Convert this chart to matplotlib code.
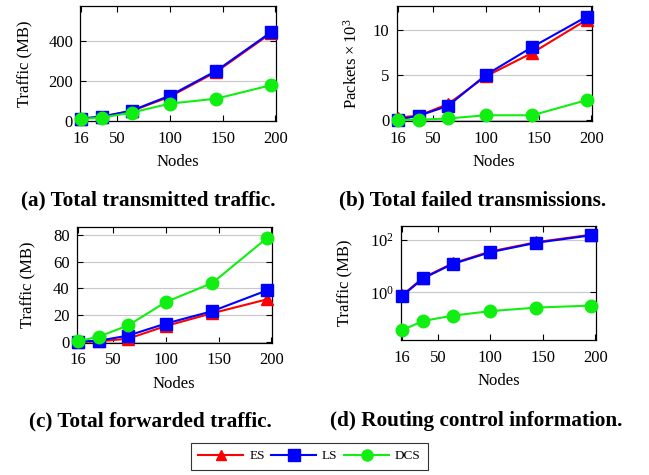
import matplotlib
matplotlib.use("Agg")
import matplotlib.pyplot as plt
from matplotlib.lines import Line2D

plt.rcParams['font.family'] = ['Liberation Serif', 'DejaVu Serif']
plt.rcParams['mathtext.fontset'] = 'custom'
plt.rcParams['mathtext.rm'] = 'Liberation Serif'
plt.rcParams['mathtext.it'] = 'Liberation Serif:italic'

nodes = [16, 36, 64, 100, 144, 196]
xticks = [16, 50, 100, 150, 200]

# (a) Total transmitted traffic (MB)
a_es = [9, 19, 48, 120, 245, 440]
a_ls = [10, 20, 50, 125, 250, 445]
a_dcs = [8, 15, 40, 85, 110, 178]

# (b) Total failed transmissions (packets x 10^3)
b_es = [0.3, 0.5, 1.8, 4.9, 7.5, 11.2]
b_ls = [0.05, 0.5, 1.6, 5.05, 8.15, 11.55]
b_dcs = [0.05, 0.05, 0.2, 0.55, 0.55, 2.25]

# (c) Total forwarded traffic (MB)
c_es = [0.2, 0.5, 2.5, 12, 21.5, 31.8]
c_ls = [0.3, 1.0, 4.8, 13.8, 23, 38.5]
c_dcs = [0.5, 4, 12.4, 29.9, 44, 77.5]

# (d) Routing control information (MB)
d_es = [0.76, 3.6, 12.6, 36, 82, 158]
d_ls = [0.72, 3.4, 12, 34, 78, 150]
d_dcs = [0.036, 0.08, 0.128, 0.19, 0.26, 0.31]

series_names = ["ES", "LS", "DCS"]
colors = ["#ff0000", "#0000ff", "#11ee11"]
markers = ["^", "s", "o"]
msizes = [8, 9, 9]

captions = ["(a) Total transmitted traffic.", "(b) Total failed transmissions.",
            "(c) Total forwarded traffic.", "(d) Routing control information."]

fig = plt.figure(figsize=(6.49, 4.75), dpi=100)

boxes = [
    [0.1233, 0.745, 0.302, 0.242],
    [0.611, 0.745, 0.3007, 0.242],
    [0.118, 0.2785, 0.3007, 0.243],
    [0.618, 0.2842, 0.300, 0.240],
]
data = [(a_es, a_ls, a_dcs), (b_es, b_ls, b_dcs), (c_es, c_ls, c_dcs), (d_es, d_ls, d_dcs)]
ylabels = ["Traffic (MB)", r"Packets $\times\,10^3$", "Traffic (MB)", "Traffic (MB)"]
ylims = [(-3, 575), (-0.1, 12.7), (-0.5, 85.5), (0.015, 340)]
yticks = [[0, 200, 400], [0, 5, 10], [0, 20, 40, 60, 80], [1, 100]]
ylab_x = [-0.281, -0.229, -0.248, -0.287]
cap_pos = [(0.229, 0.577), (0.728, 0.577), (0.231, 0.1137), (0.733, 0.1137)]

for i, (box, d) in enumerate(zip(boxes, data)):
    ax = fig.add_axes(box)
    for vals, c, m, ms in zip(d, colors, markers, msizes):
        ax.plot(nodes, vals, color=c, marker=m, markersize=ms, linewidth=1.5,
                clip_on=False, zorder=3)
    if i == 3:
        ax.set_yscale('log')
        ax.set_yticks(yticks[i])
        ax.set_yticklabels([r"$10^0$", r"$10^2$"])
        ax.minorticks_off()
    else:
        ax.set_yticks(yticks[i])
    ax.set_ylim(*ylims[i])
    ax.set_xlim(15, 200.5)
    ax.set_xticks(xticks)
    ax.tick_params(direction='in', top=True, right=True, labelsize=12, length=4,
                   width=0.8)
    ax.tick_params(axis='x', pad=7)
    ax.tick_params(axis='y', pad=5)
    ax.grid(axis='y', color='#c8c8c8', linewidth=0.8)
    ax.set_axisbelow(True)
    ax.set_xlabel("Nodes", fontsize=12)
    ax.xaxis.set_label_coords(0.5, -0.29)
    ax.set_ylabel(ylabels[i], fontsize=12, va='center')
    ax.yaxis.set_label_coords(ylab_x[i], 0.5)
    for s in ax.spines.values():
        s.set_linewidth(0.9)
    fig.text(cap_pos[i][0], cap_pos[i][1], captions[i], ha='center', va='center',
             fontsize=15.3, fontweight='bold')

handles = [Line2D([0], [0], color=c, marker=m, markersize=ms - 1, linewidth=1.5)
           for c, m, ms in zip(colors, markers, msizes)]
leg = fig.legend(handles, series_names, loc='upper center', bbox_to_anchor=(0.477, 1 - 443 / 475),
                 ncol=3, fontsize=9.5, frameon=True, fancybox=False, edgecolor='black',
                 handlelength=3.4, columnspacing=0.5, handletextpad=0.45, borderpad=0.55,
                 borderaxespad=0)
leg.get_frame().set_linewidth(0.8)

fig.savefig("out.png", dpi=100)
